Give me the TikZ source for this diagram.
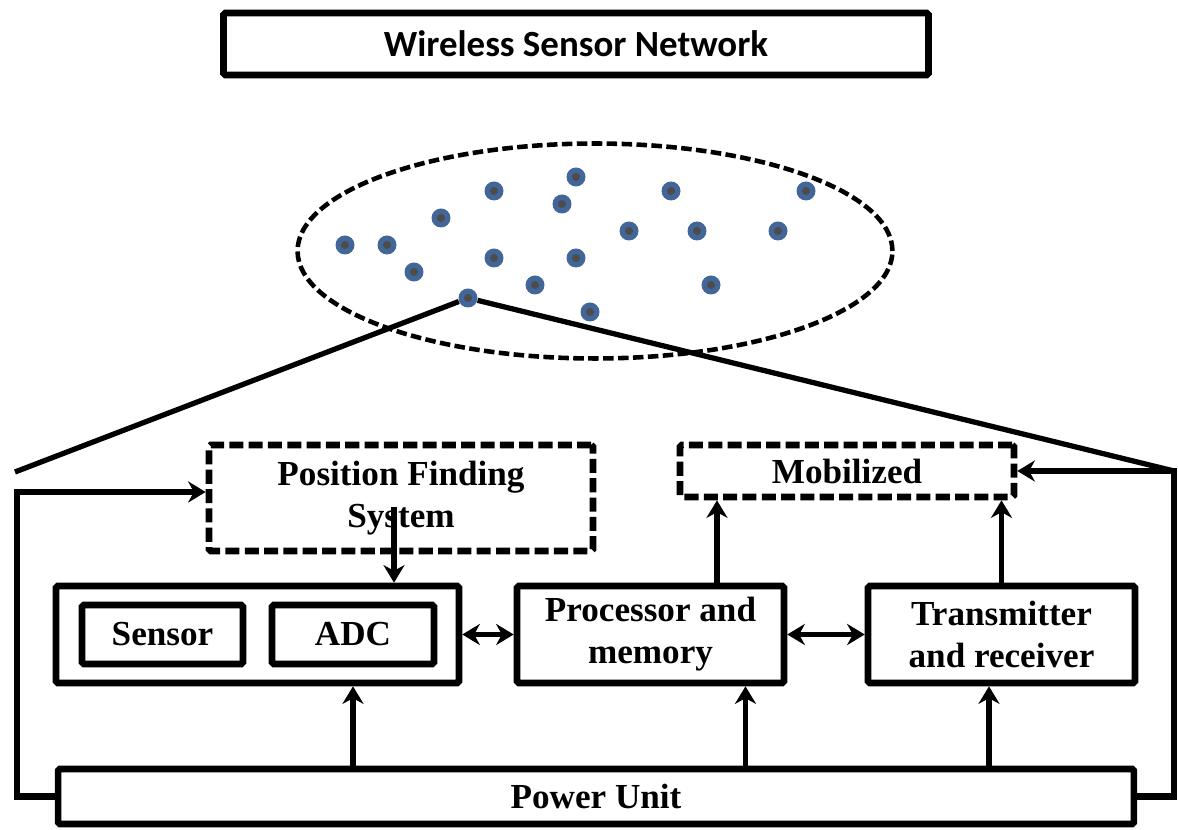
\documentclass[tikz,border=0pt]{standalone}
\usepackage{fontspec}
\setmainfont{Liberation Serif}
\newfontfamily\titlefont{Carlito}
\usetikzlibrary{positioning, arrows.meta, shapes.geometric}

\definecolor{dotblue}{RGB}{66,102,152}

\begin{document}
\begin{tikzpicture}[
	x=0.02cm, y=-0.02cm,
	block/.style={
		draw,
		line width=3.8pt,
		rounded corners=1pt,
		inner sep=0pt,
		align=center,
		font=\bfseries\fontsize{20}{24}\selectfont
	},
	dashblock/.style={
		block,
		dash pattern=on 8pt off 3pt
	},
	titleblock/.style={
		draw,
		line width=3.8pt,
		rounded corners=1pt,
		font=\titlefont\bfseries\fontsize{21}{24}\selectfont
	},
	sensornode/.style={
		circle,
		fill=dotblue,
		minimum size=0.38cm,
		inner sep=0pt,
		path picture={\fill[black!70] (path picture bounding box.center) circle (0.08cm);}
	},
	arrow/.style={-{Stealth[length=10pt, width=12pt]}, line width=3.2pt},
	dblarrow/.style={{Stealth[length=10pt, width=12pt]}-{Stealth[length=10pt, width=12pt]}, line width=3pt},
	hubline/.style={line width=3pt}
	]
	\useasboundingbox (0,0) rectangle (1178,830);

	% ======================
	% Title
	% ======================
	\node (title) [titleblock, minimum width=14.1cm, minimum height=1.24cm] at (576,44) {Wireless Sensor Network};

	% ======================
	% Sensor field
	% ======================
	\node (wsn) [draw, ellipse, line width=2.6pt, dash pattern=on 6pt off 2.5pt,
		minimum width=11.9cm, minimum height=4.3cm] at (595,251) {};

	\foreach \x/\y [count=\i] in {345/245, 387/245, 414/272, 441/218, 494/191, 494/258,
		535/285, 576/177, 562/204, 576/258, 590/312, 629/231, 671/191, 697/231,
		778/231, 806/191, 711/285}
		\node (s\i) [sensornode] at (\x,\y) {};
	\node (hub) [sensornode] at (468,298) {};

	% ======================
	% Node blocks
	% ======================
	\node (pfs) [dashblock, minimum width=7.68cm, minimum height=2.12cm] at (401,498) {Position Finding\\System};
	\node (mob) [dashblock, minimum width=6.68cm, minimum height=1.04cm] at (847,471) {Mobilized};

	\node (sensing) [block, minimum width=8.06cm, minimum height=1.94cm] at (257.5,634.5) {};
	\node (sensor) [block, minimum width=3.22cm, minimum height=1.18cm] at (162.5,634.5) {Sensor};
	\node (adc) [block, minimum width=3.24cm, minimum height=1.18cm] at (353,634.5) {ADC};

	\node (proc) [block, minimum width=5.34cm, minimum height=1.94cm] at (650.5,634.5) {Processor and\\memory};
	\node (trans) [block, minimum width=5.34cm, minimum height=1.94cm] at (1001.5,634.5) {Transmitter\\and receiver};

	\node (power) [block, minimum width=21.52cm, minimum height=1.1cm] at (596,796.5) {Power Unit};

	% zoom lines
	\coordinate (lend) at (15,472);
	\coordinate (rcorner) at (1174,471);
	\draw[hubline] (hub) -- (lend);
	\draw[hubline] (hub) -- (rcorner);

	% ======================
	% Connections
	% ======================
	\draw[dblarrow] (sensing.east) -- (proc.west);
	\draw[dblarrow] (proc.east) -- (trans.west);

	\draw[arrow] (power.north -| adc) -- (sensing.south -| adc);
	\draw[arrow] ([xshift=1.9cm]proc.south |- power.north) -- ([xshift=1.9cm]proc.south);
	\draw[arrow] ([xshift=-0.25cm]trans.south |- power.north) -- ([xshift=-0.25cm]trans.south);

	\draw[arrow] ([xshift=1.33cm]proc.north) -- ([xshift=1.33cm]proc.north |- mob.south);
	\draw[arrow] (trans.north) -- (trans.north |- mob.south);

	\draw[arrow] ([xshift=-0.14cm, yshift=-0.18cm]pfs.center) -- ([xshift=-0.14cm]pfs.center |- sensing.north);

	% power feedback loops
	\draw[arrow, line width=3.6pt] (power.west) -- ++(-0.76cm,0) |- ([yshift=0.12cm]pfs.west);
	\draw[arrow, line width=3.6pt] (power.east) -| (rcorner) -- (mob.east);

\end{tikzpicture}
\end{document}
